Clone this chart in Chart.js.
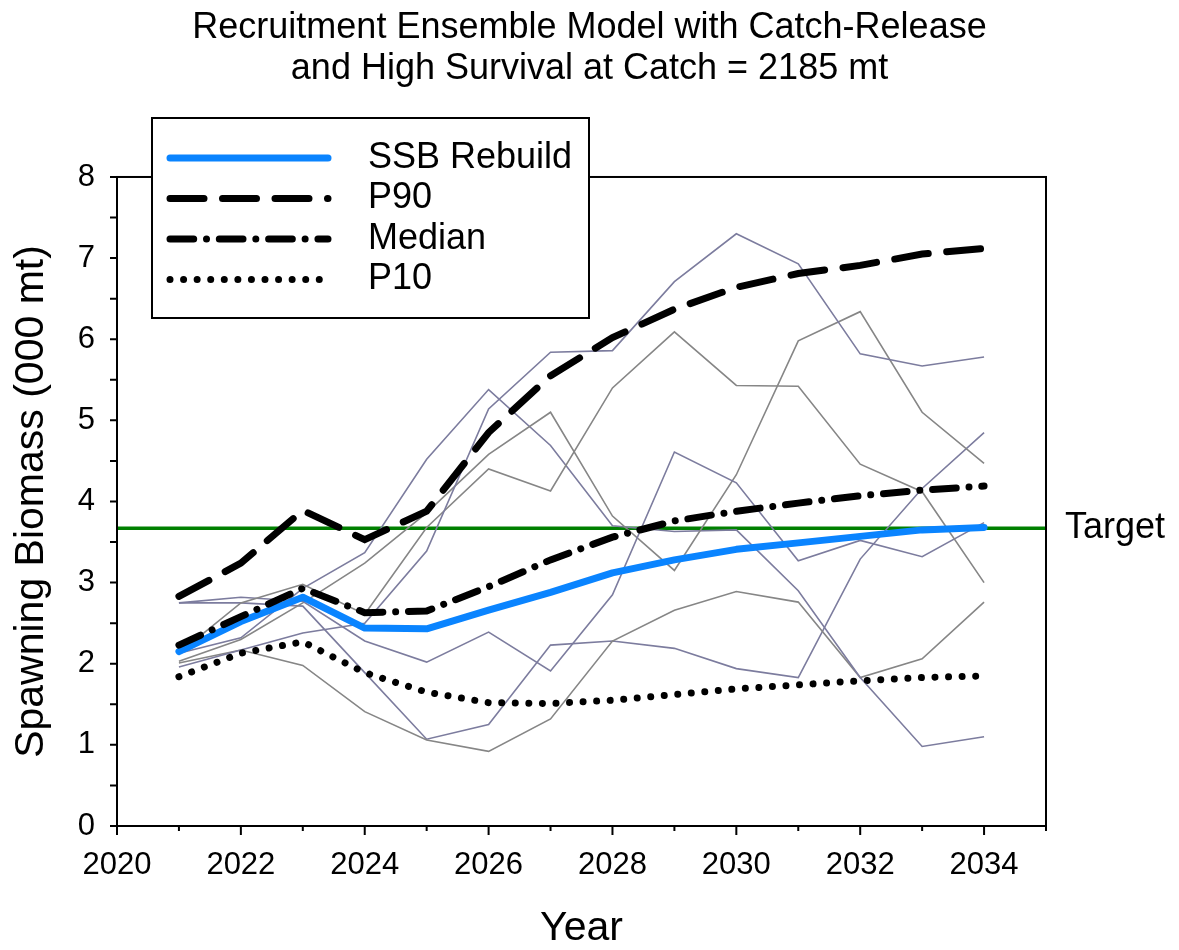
<!DOCTYPE html>
<html>
<head>
<meta charset="utf-8">
<title>Recruitment Ensemble Model</title>
<script src="https://cdn.jsdelivr.net/npm/chart.js@4.4.1/dist/chart.umd.min.js"></script>
<style>
  html, body { margin: 0; padding: 0; background: #fff; }
  canvas { display: block; }
</style>
</head>
<body>
<canvas id="ssbChart" width="1179" height="950"></canvas>
<script>
// projection years and spawning biomass (000 mt)
const YEARS = [2021, 2022, 2023, 2024, 2025, 2026, 2027, 2028, 2029, 2030, 2031, 2032, 2033, 2034];
const SSB_REBUILD = [2.15, 2.52, 2.82, 2.44, 2.43, 2.66, 2.88, 3.12, 3.28, 3.41, 3.49, 3.57, 3.65, 3.68];
const P90 = [2.83, 3.24, 3.89, 3.53, 3.88, 4.85, 5.55, 6.02, 6.37, 6.64, 6.81, 6.91, 7.05, 7.12];
const MEDIAN = [2.23, 2.58, 2.93, 2.63, 2.65, 2.95, 3.28, 3.56, 3.76, 3.88, 3.98, 4.07, 4.14, 4.19];
const P10 = [1.84, 2.13, 2.27, 1.89, 1.65, 1.52, 1.51, 1.55, 1.62, 1.69, 1.74, 1.79, 1.83, 1.85];
const TARGET = 3.67;

// individual ensemble runs
const RUN_1 = [1.96, 2.17, 2.38, 2.50, 3.39, 5.14, 5.84, 5.86, 6.71, 7.30, 6.93, 5.82, 5.67, 5.78];
const RUN_2 = [2.13, 2.75, 2.98, 2.61, 3.68, 4.40, 4.13, 5.40, 6.09, 5.43, 5.42, 4.46, 4.12, 3.00];
const RUN_3 = [2.75, 2.82, 2.77, 2.28, 2.02, 2.39, 1.91, 2.85, 4.61, 4.23, 3.27, 3.52, 3.32, 3.74];
const RUN_4 = [2.03, 2.30, 2.75, 3.24, 3.86, 4.58, 5.10, 3.82, 3.15, 4.33, 5.98, 6.34, 5.10, 4.47];
const RUN_5 = [2.13, 2.32, 2.93, 3.37, 4.52, 5.38, 4.69, 3.70, 3.63, 3.65, 2.90, 1.83, 0.98, 1.10];
const RUN_6 = [2.01, 2.17, 1.98, 1.41, 1.06, 0.92, 1.32, 2.28, 2.66, 2.89, 2.76, 1.83, 2.06, 2.76];
const RUN_7 = [2.75, 2.75, 2.71, 1.89, 1.07, 1.25, 2.23, 2.28, 2.19, 1.94, 1.83, 3.29, 4.16, 4.85];
const RUNS = [RUN_1, RUN_2, RUN_3, RUN_4, RUN_5, RUN_6, RUN_7];
const RUN_COLORS = ['#7c7c9e', '#868686'];

const X_TICKS = [2020, 2022, 2024, 2026, 2028, 2030, 2032, 2034];
const FONT = "'Liberation Sans', Arial, Helvetica, sans-serif";

const toPoints = vals => vals.map((v, i) => ({ x: YEARS[i], y: v }));

const datasets = RUNS.map((run, i) => ({
  label: 'Run ' + (i + 1),
  data: toPoints(run),
  borderColor: RUN_COLORS[i % 2],
  borderWidth: 1.6,
  pointRadius: 0,
  order: 5
}));

datasets.push(
  {
    label: 'Target',
    data: [{ x: 2020, y: TARGET }, { x: 2035, y: TARGET }],
    borderColor: '#008000',
    borderWidth: 3.5,
    pointRadius: 0,
    order: 6
  },
  {
    label: 'SSB Rebuild',
    data: toPoints(SSB_REBUILD),
    borderColor: '#0a84ff',
    borderWidth: 7,
    borderCapStyle: 'round',
    borderJoinStyle: 'round',
    pointRadius: 0,
    order: 3
  },
  {
    label: 'P90',
    data: toPoints(P90),
    borderColor: '#000',
    borderWidth: 7,
    borderDash: [34, 18.5],
    borderCapStyle: 'round',
    pointRadius: 0,
    order: 2
  },
  {
    label: 'Median',
    data: toPoints(MEDIAN),
    borderColor: '#000',
    borderWidth: 7,
    borderDash: [23.7, 12.8, 0.01, 12.8],
    borderCapStyle: 'round',
    pointRadius: 0,
    order: 2
  },
  {
    label: 'P10',
    data: toPoints(P10),
    borderColor: '#000',
    borderWidth: 7,
    borderDash: [0.01, 13.56],
    borderCapStyle: 'round',
    pointRadius: 0,
    order: 2
  }
);

// frame, outside tick marks, boxed legend and the target label
const decorations = {
  id: 'decorations',
  afterDraw(chart) {
    const { ctx, chartArea: a, scales: { x, y } } = chart;
    ctx.save();

    ctx.strokeStyle = '#000';
    ctx.lineWidth = 2;
    ctx.strokeRect(a.left, a.top, a.right - a.left, a.bottom - a.top);

    ctx.beginPath();
    for (let yr = x.min; yr <= x.max; yr++) {
      const px = x.getPixelForValue(yr);
      ctx.moveTo(px, a.bottom);
      ctx.lineTo(px, a.bottom + (yr % 2 === 0 ? 9 : 5));
    }
    for (let v = y.min; v <= y.max; v += 0.5) {
      const py = y.getPixelForValue(v);
      ctx.moveTo(a.left, py);
      ctx.lineTo(a.left - 7, py);
    }
    ctx.stroke();

    // target label
    ctx.fillStyle = '#000';
    ctx.font = '36px ' + FONT;
    ctx.textAlign = 'left';
    ctx.textBaseline = 'middle';
    ctx.fillText('Target', a.right + 19, y.getPixelForValue(TARGET));

    // legend
    const box = { left: 152, top: 118, right: 589, bottom: 318 };
    ctx.fillStyle = '#fff';
    ctx.fillRect(box.left, box.top, box.right - box.left, box.bottom - box.top);
    ctx.strokeStyle = '#000';
    ctx.lineWidth = 2;
    ctx.strokeRect(box.left, box.top, box.right - box.left, box.bottom - box.top);

    const rows = ['SSB Rebuild', 'P90', 'Median', 'P10'];
    rows.forEach((name, i) => {
      const ds = chart.data.datasets.find(d => d.label === name);
      const ry = 158 + i * 40.5;
      ctx.save();
      ctx.strokeStyle = ds.borderColor;
      ctx.lineWidth = ds.borderWidth;
      ctx.lineCap = 'round';
      ctx.setLineDash(ds.borderDash || []);
      ctx.beginPath();
      ctx.moveTo(170, ry);
      ctx.lineTo(328, ry);
      ctx.stroke();
      ctx.restore();
      ctx.fillStyle = '#000';
      ctx.fillText(name, 368, ry);
    });

    ctx.restore();
  }
};

new Chart(document.getElementById('ssbChart').getContext('2d'), {
  type: 'line',
  data: { datasets },
  plugins: [decorations],
  options: {
    responsive: false,
    animation: false,
    layout: { padding: 0 },
    elements: { line: { tension: 0 } },
    plugins: {
      legend: { display: false },
      tooltip: { enabled: false },
      title: {
        display: true,
        text: ['Recruitment Ensemble Model with Catch-Release', 'and High Survival at Catch = 2185 mt'],
        color: '#000',
        font: { family: FONT, size: 36, weight: 'normal', lineHeight: 1.14 },
        padding: { top: 7.5, bottom: 87.4 }
      }
    },
    scales: {
      x: {
        type: 'linear',
        min: 2020,
        max: 2035,
        afterFit: s => { s.height = 124; },
        afterBuildTicks: s => { s.ticks = X_TICKS.map(v => ({ value: v })); },
        grid: { display: false, drawTicks: false },
        border: { display: false },
        ticks: {
          color: '#000',
          font: { family: FONT, size: 31 },
          padding: 21,
          maxRotation: 0,
          autoSkip: false,
          callback: v => String(v)
        },
        title: {
          display: true,
          text: 'Year',
          color: '#000',
          font: { family: FONT, size: 41, lineHeight: 1 },
          padding: { top: 0, bottom: 1 }
        }
      },
      y: {
        min: 0,
        max: 8,
        afterFit: s => { s.width = 117; },
        grid: { display: false, drawTicks: false },
        border: { display: false },
        ticks: {
          stepSize: 1,
          color: '#000',
          font: { family: FONT, size: 31 },
          padding: 22
        },
        title: {
          display: true,
          text: 'Spawning Biomass (000 mt)',
          color: '#000',
          font: { family: FONT, size: 41, lineHeight: 1 },
          padding: { top: 11 }
        }
      },
      // empty right-hand axis that keeps room for the target label
      yRight: {
        position: 'right',
        min: 0,
        max: 8,
        afterFit: s => { s.width = 133; },
        grid: { display: false, drawTicks: false },
        border: { display: false },
        ticks: { display: false }
      }
    }
  }
});
</script>
</body>
</html>
